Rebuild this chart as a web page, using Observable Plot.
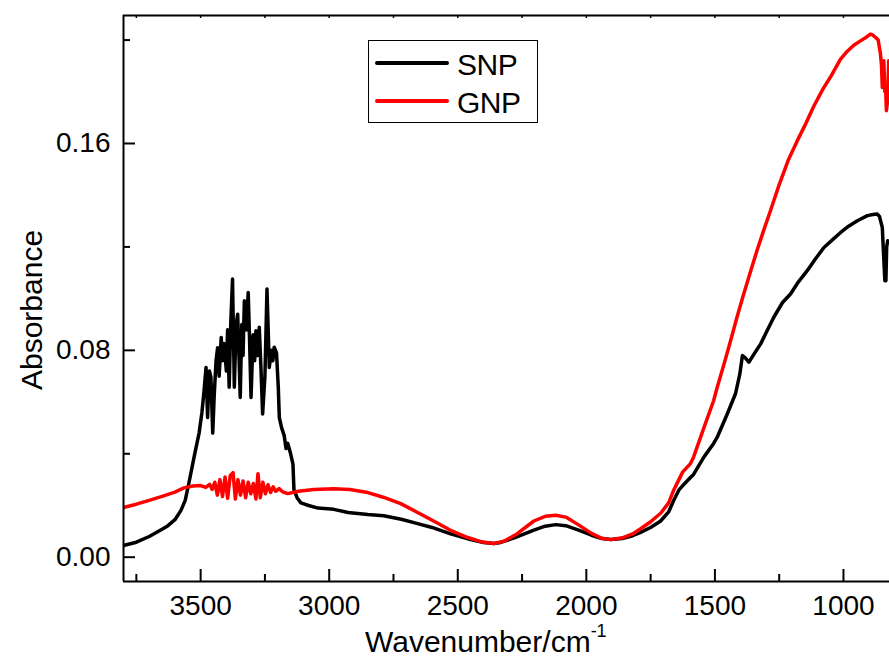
<!DOCTYPE html>
<html>
<head>
<meta charset="utf-8">
<script src="https://cdn.jsdelivr.net/npm/d3@7"></script>
<script src="https://cdn.jsdelivr.net/npm/@observablehq/plot@0.6"></script>
<style>
  html, body { margin: 0; padding: 0; background: #fff; overflow: hidden; }
  #wrap { position: relative; width: 889px; height: 658px; font-family: "Liberation Sans", Arial, sans-serif; }
  #legend { position: absolute; left: 368px; top: 40px; width: 170px; height: 83px; border: 1px solid #000; box-sizing: border-box; background: #fff; }
  .lg-row { position: absolute; left: 0; height: 30px; }
  .lg-line { position: absolute; left: 6px; width: 74px; height: 4px; border-radius: 2px; }
  .lg-text { position: absolute; left: 88px; font-size: 30px; line-height: 30px; color: #000; letter-spacing: -0.5px; }
</style>
</head>
<body>
<div id="wrap"></div>
<script>
// ---- data ----
const seriesNames = ["SNP", "GNP"];
const seriesColors = ["#000000", "#ff0000"];

const snpWavenumber = [3800,3750,3700,3650,3627,3600,3577,3560,3546,3526,3506,3495,3487,3479,3473,3466,3460,3453,3447,3440,3434,3428,3420,3415,3408,3400,3395,3389,3383,3376,3369,3362,3356,3350,3346,3340,3335,3330,3322,3315,3310,3304,3296,3290,3285,3278,3272,3265,3259,3250,3242,3233,3225,3219,3214,3205,3198,3194,3185,3175,3168,3161,3150,3141,3137,3125,3110,3080,3044,2982,2927,2850,2788,2720,2656,2600,2528,2450,2400,2360,2333,2280,2204,2160,2119,2080,2030,1980,1940,1905,1860,1820,1789,1750,1711,1680,1660,1640,1625,1595,1583,1543,1505,1491,1452,1420,1403,1393,1381,1368,1345,1322,1300,1271,1237,1206,1175,1141,1110,1076,1040,1011,980,946,907,885,869,860,849,843,839,835,832,828,821];
const snpAbsorbance = [0.0045,0.0058,0.0080,0.0108,0.0122,0.0145,0.0180,0.0220,0.0285,0.0385,0.0480,0.0560,0.0640,0.0734,0.0540,0.0720,0.0696,0.0480,0.0630,0.0760,0.0810,0.0700,0.0850,0.0760,0.0826,0.0720,0.0880,0.0657,0.0900,0.1076,0.0657,0.0900,0.0940,0.0750,0.0618,0.0900,0.0780,0.0992,0.0880,0.1024,0.0850,0.0618,0.0860,0.0760,0.0876,0.0780,0.0889,0.0720,0.0554,0.0700,0.1037,0.0734,0.0800,0.0760,0.0812,0.0790,0.0657,0.0540,0.0500,0.0470,0.0420,0.0440,0.0400,0.0360,0.0260,0.0230,0.0210,0.0200,0.0190,0.0185,0.0173,0.0165,0.0160,0.0147,0.0130,0.0115,0.0090,0.0068,0.0057,0.0053,0.0057,0.0075,0.0105,0.0120,0.0126,0.0122,0.0105,0.0085,0.0072,0.0068,0.0072,0.0083,0.0096,0.0115,0.0140,0.0175,0.0220,0.0260,0.0277,0.0308,0.0320,0.0387,0.0440,0.0464,0.0554,0.0632,0.0709,0.0780,0.0770,0.0754,0.0790,0.0825,0.0870,0.0928,0.0985,0.1018,0.1065,0.1108,0.1152,0.1198,0.1230,0.1256,0.1280,0.1301,0.1321,0.1325,0.1327,0.1318,0.1275,0.1150,0.1069,0.1069,0.1200,0.1224,0.1220];

const gnpWavenumber = [3800,3750,3700,3650,3600,3565,3530,3500,3480,3465,3455,3445,3435,3425,3415,3405,3395,3385,3374,3365,3355,3345,3335,3325,3315,3305,3295,3285,3277,3268,3258,3248,3238,3228,3218,3208,3195,3180,3161,3120,3060,2982,2920,2850,2790,2722,2660,2594,2530,2464,2410,2360,2320,2270,2204,2160,2119,2080,2030,1980,1940,1905,1860,1820,1789,1750,1711,1680,1660,1640,1625,1595,1583,1543,1505,1491,1465,1439,1415,1392,1360,1335,1310,1284,1251,1215,1180,1150,1115,1080,1050,1012,985,960,934,910,895,887,875,865,856,852,849,846,843,839,836,833,829,826,824,821];
const gnpAbsorbance = [0.0192,0.0205,0.0220,0.0235,0.0252,0.0268,0.0275,0.0277,0.0270,0.0282,0.0262,0.0290,0.0240,0.0300,0.0235,0.0310,0.0228,0.0315,0.0327,0.0225,0.0300,0.0240,0.0295,0.0230,0.0290,0.0245,0.0285,0.0225,0.0323,0.0230,0.0290,0.0245,0.0280,0.0250,0.0272,0.0255,0.0265,0.0252,0.0246,0.0255,0.0262,0.0265,0.0262,0.0250,0.0232,0.0207,0.0175,0.0140,0.0105,0.0077,0.0060,0.0053,0.0062,0.0090,0.0140,0.0158,0.0162,0.0155,0.0125,0.0092,0.0073,0.0068,0.0075,0.0090,0.0110,0.0137,0.0170,0.0210,0.0260,0.0300,0.0330,0.0362,0.0387,0.0500,0.0605,0.0657,0.0745,0.0837,0.0925,0.1004,0.1110,0.1190,0.1265,0.1340,0.1438,0.1535,0.1610,0.1670,0.1745,0.1810,0.1858,0.1925,0.1957,0.1980,0.1997,0.2012,0.2023,0.2020,0.2010,0.2000,0.1945,0.1900,0.1817,0.1900,0.1920,0.1800,0.1815,0.1727,0.1760,0.1850,0.1920,0.1910];

const xMajorTicks = [3500, 3000, 2500, 2000, 1500, 1000];
const xMinorTicks = [3750, 3250, 2750, 2250, 1750, 1250];
const yMajorTicks = [0.00, 0.08, 0.16];
const yMinorTicks = [0.04, 0.12, 0.20];
const xDomain = [3800, 821];
const yDomain = [-0.0094, 0.2095];
const xLabel = "Wavenumber/cm";
const xLabelSup = "-1";
const yLabel = "Absorbance";

// ---- build table ----
const rows = [];
snpWavenumber.forEach((w, i) => rows.push({series: "SNP", w, a: snpAbsorbance[i]}));
gnpWavenumber.forEach((w, i) => rows.push({series: "GNP", w, a: gnpAbsorbance[i]}));

const W = 889, H = 658;
const mL = 123, mR = 0, mT = 15, mB = 77;
const frameW = W - mL - mR, frameH = H - mT - mB;
const majorLen = 12, minorLen = 7, topLen = 3;

const chart = Plot.plot({
  width: W, height: H,
  marginLeft: mL, marginRight: mR, marginTop: mT, marginBottom: mB,
  style: {fontFamily: "'Liberation Sans', Arial, sans-serif", fontSize: "28px", background: "#fff", color: "#000", overflow: "hidden"},
  x: {domain: xDomain},
  y: {domain: yDomain},
  color: {domain: seriesNames, range: seriesColors},
  marks: [
    Plot.axisX({ticks: xMajorTicks, tickSize: 0, tickPadding: 14, tickFormat: d3.format("d"), label: null}),
    Plot.axisY({ticks: yMajorTicks, tickSize: 0, tickPadding: 13, tickFormat: d3.format(".2f"), label: null}),
    // inward ticks on bottom
    Plot.ruleX(xMajorTicks, {x: d => d, insetTop: frameH - majorLen, stroke: "#000", strokeWidth: 2}),
    Plot.ruleX(xMinorTicks, {x: d => d, insetTop: frameH - minorLen, stroke: "#000", strokeWidth: 2}),
    // tiny inward ticks on top
    Plot.ruleX(xMajorTicks.concat(xMinorTicks), {x: d => d, insetBottom: frameH - topLen, stroke: "#000", strokeWidth: 1.5}),
    // inward ticks on left
    Plot.ruleY(yMajorTicks, {y: d => d, insetRight: frameW - majorLen, stroke: "#000", strokeWidth: 2}),
    Plot.ruleY(yMinorTicks, {y: d => d, insetRight: frameW - minorLen, stroke: "#000", strokeWidth: 2}),
    // data lines
    Plot.line(rows, {x: "w", y: "a", z: "series", stroke: "series", strokeWidth: 3.5, strokeLinejoin: "round", clip: true}),
    // frame: left, top, bottom
    Plot.ruleX([xDomain[0]], {stroke: "#000", strokeWidth: 2}),
    Plot.ruleY([yDomain[0], yDomain[1]], {stroke: "#000", strokeWidth: 2})
  ]
});

const wrap = document.getElementById("wrap");
wrap.appendChild(chart);

// axis titles
const svg = d3.select(chart);
const xt = svg.append("text")
  .attr("x", 365).attr("y", 652)
  .attr("font-size", 30).attr("fill", "#000")
  .attr("text-anchor", "start");
xt.append("tspan").text(xLabel);
xt.append("tspan").attr("font-size", 18).attr("dy", -15).text(xLabelSup);

svg.append("text")
  .attr("transform", "translate(42,310) rotate(-90)")
  .attr("font-size", 30).attr("fill", "#000")
  .attr("text-anchor", "middle")
  .text(yLabel);

// legend
const legend = document.createElement("div");
legend.id = "legend";
seriesNames.forEach((name, i) => {
  const row = document.createElement("div");
  row.className = "lg-row";
  row.style.top = (i === 0 ? 7 : 45) + "px";
  row.style.width = "100%";
  const ln = document.createElement("div");
  ln.className = "lg-line";
  ln.style.top = "13px";
  ln.style.background = seriesColors[i];
  const tx = document.createElement("div");
  tx.className = "lg-text";
  tx.style.top = "2px";
  tx.textContent = name;
  row.appendChild(ln); row.appendChild(tx);
  legend.appendChild(row);
});
wrap.appendChild(legend);
</script>
</body>
</html>
